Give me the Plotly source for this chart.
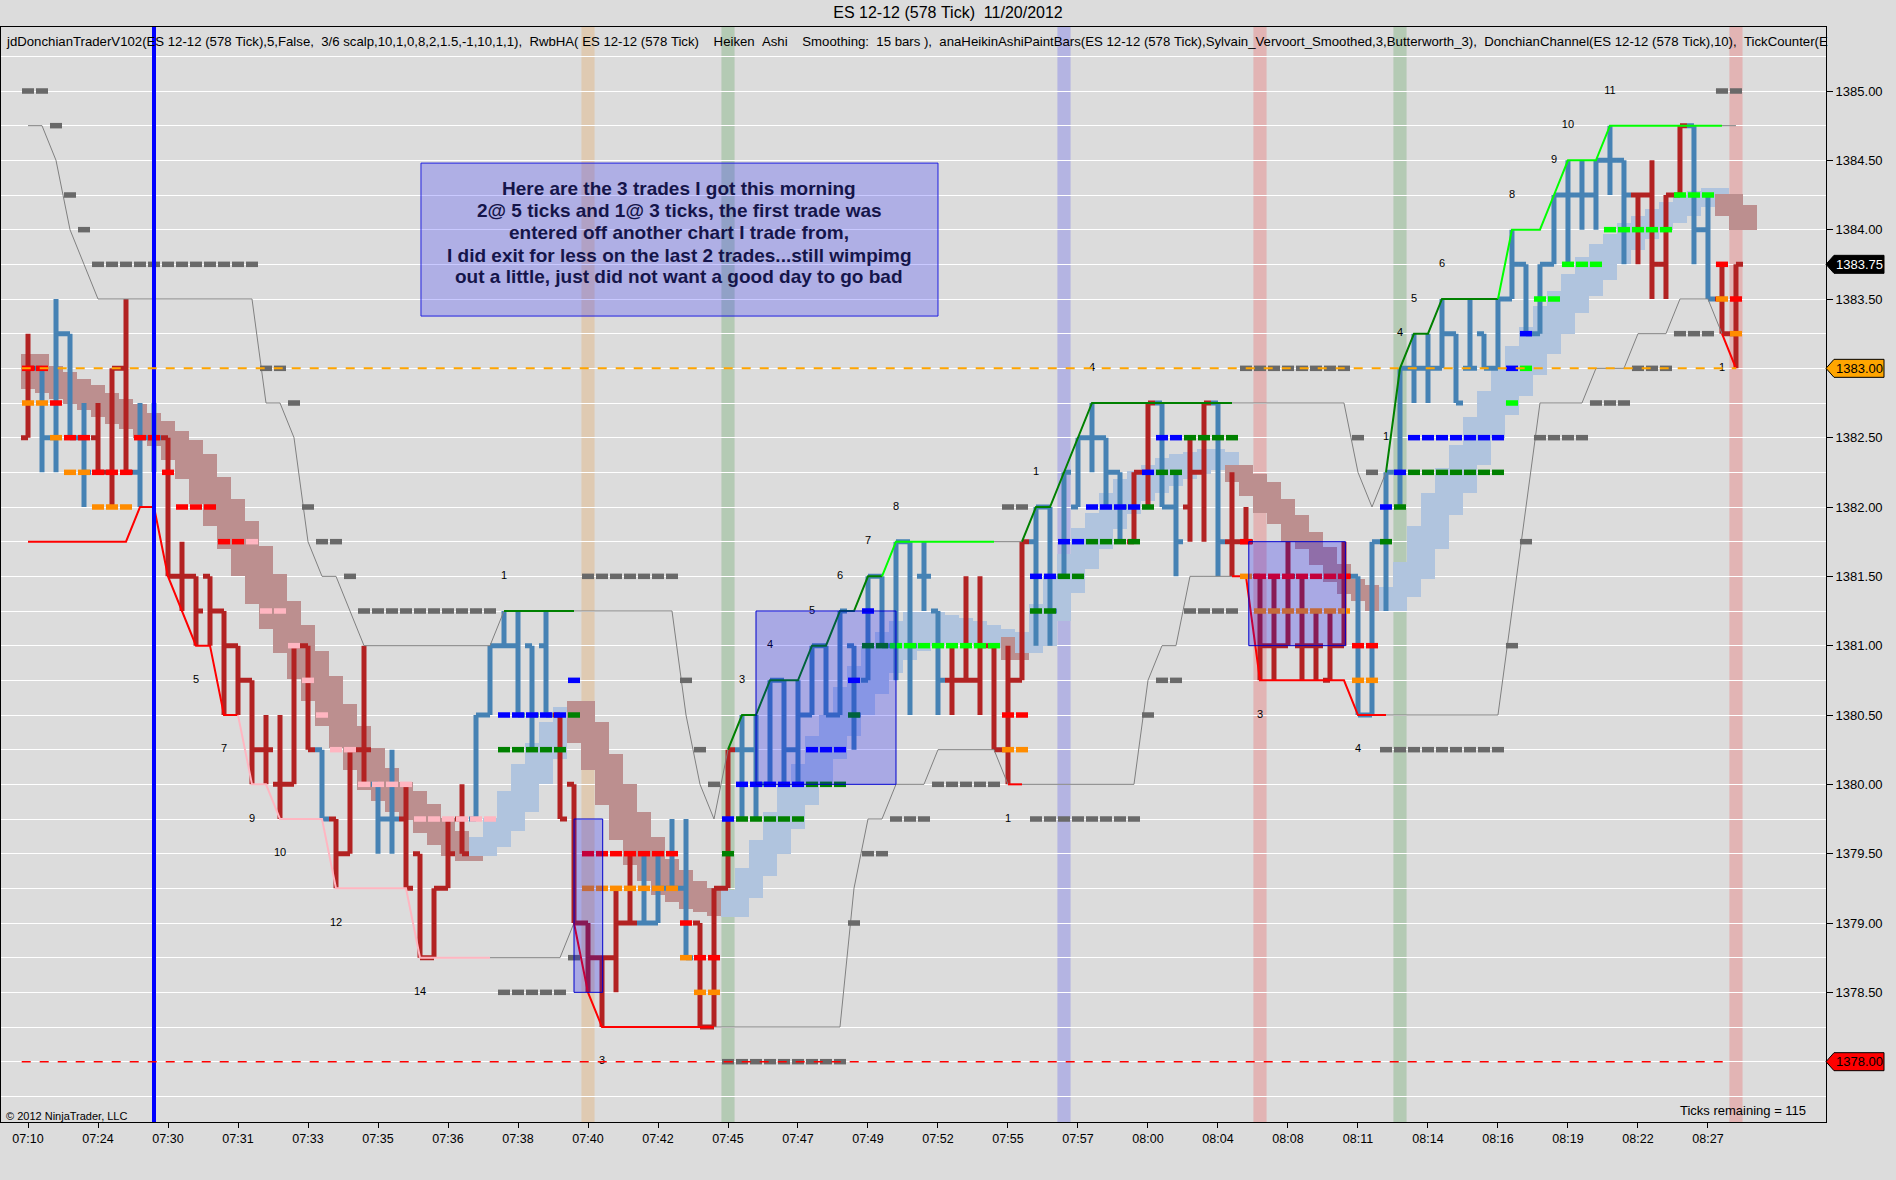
import plotly.graph_objects as go

# ES 12-12 (578 Tick) 11/20/2012 - one entry per bar, bar index = x position
TIME_LABELS = ["07:10", "07:24", "07:30", "07:31", "07:33", "07:35", "07:36", "07:38",
               "07:40", "07:42", "07:45", "07:47", "07:49", "07:52", "07:55", "07:57",
               "08:00", "08:04", "08:08", "08:11", "08:14", "08:16", "08:19", "08:22", "08:27"]
LABEL_STEP = 5

# B = steel blue paint bar, R = firebrick paint bar
PAINT = ("RBBBBRRRBB" "RRRRRRRRRR" "RBRRRBBRRR" "RRBBBBBBRR" "RRRRBBBBRR" "RBBBBBBBBB"
         "BBBBBBRRRR" "RRBBBBBBBR" "RBBRRBRRRR" "RRRRRBBBBB" "BBBBBBBBBB" "BBBBBRRRRB" "BRR")

OPEN = [1382.50, 1383.00, 1382.50, 1383.25, 1382.50, 1382.50, 1382.25, 1383.00, 1382.25, 1382.50,
        1382.50, 1381.50, 1381.50, 1381.50, 1381.25, 1381.00, 1380.75, 1380.25, 1380.00, 1380.00,
        1381.00, 1380.25, 1379.75, 1379.50, 1380.25, 1380.00, 1379.75, 1379.75, 1379.50, 1378.75,
        1379.25, 1379.75, 1379.75, 1380.50, 1381.00, 1381.00, 1381.00, 1381.00, 1380.50, 1380.00,
        1379.00, 1378.75, 1378.75, 1379.00, 1379.00, 1379.00, 1379.25, 1379.25, 1379.00, 1378.25,
        1379.25, 1380.25, 1380.25, 1380.00, 1380.75, 1380.25, 1380.50, 1381.00, 1380.50, 1381.00,
        1380.75, 1381.50, 1381.00, 1381.75, 1381.50, 1381.25, 1380.75, 1380.75, 1380.75, 1381.00,
        1380.25, 1380.75, 1381.75, 1382.00, 1381.50, 1382.00, 1382.50, 1382.50, 1382.25, 1381.75,
        1382.25, 1382.75, 1382.00, 1382.00, 1382.25, 1382.75, 1381.75, 1381.75, 1381.50, 1381.00,
        1381.00, 1381.00, 1381.00, 1380.75, 1381.00, 1381.50, 1380.50, 1381.75, 1382.25, 1383.00,
        1383.00, 1383.00, 1383.25, 1383.00, 1383.25, 1383.00, 1383.50, 1383.75, 1383.25, 1383.75,
        1384.25, 1384.25, 1384.25, 1384.50, 1384.50, 1384.25, 1384.25, 1383.75, 1384.25, 1384.75,
        1384.00, 1383.50, 1383.25]
HIGH = [1383.25, 1383.00, 1383.50, 1383.25, 1382.75, 1382.75, 1383.00, 1383.50, 1382.75, 1382.75,
        1382.50, 1381.75, 1381.50, 1381.50, 1381.25, 1381.00, 1380.75, 1380.50, 1380.50, 1381.00,
        1381.00, 1380.25, 1379.75, 1380.25, 1381.00, 1380.00, 1380.25, 1380.00, 1379.50, 1379.25,
        1379.75, 1380.00, 1380.50, 1381.00, 1381.25, 1381.25, 1381.00, 1381.25, 1380.50, 1380.00,
        1379.00, 1378.75, 1379.25, 1379.50, 1379.50, 1379.50, 1379.75, 1379.75, 1379.00, 1379.25,
        1380.25, 1380.50, 1380.50, 1380.75, 1380.75, 1380.75, 1381.00, 1381.00, 1381.25, 1381.00,
        1381.50, 1381.50, 1381.75, 1381.75, 1381.75, 1381.25, 1381.00, 1381.50, 1381.50, 1381.00,
        1381.00, 1381.75, 1382.00, 1382.00, 1382.25, 1382.50, 1382.75, 1382.50, 1382.25, 1382.25,
        1382.75, 1382.75, 1382.25, 1382.50, 1382.75, 1382.75, 1382.25, 1382.00, 1381.50, 1381.50,
        1381.75, 1381.50, 1381.25, 1381.25, 1381.75, 1381.50, 1381.75, 1382.25, 1383.00, 1383.25,
        1383.25, 1383.50, 1383.25, 1383.50, 1383.25, 1383.50, 1384.00, 1383.75, 1383.75, 1384.25,
        1384.50, 1384.50, 1384.50, 1384.75, 1384.50, 1384.25, 1384.50, 1384.25, 1384.75, 1384.75,
        1384.25, 1383.75, 1383.75]
LOW = [1382.50, 1382.25, 1382.25, 1382.50, 1382.00, 1382.25, 1382.00, 1382.25, 1382.00, 1382.25,
       1381.50, 1381.25, 1381.00, 1381.00, 1380.50, 1380.50, 1380.00, 1380.00, 1379.75, 1380.00,
       1380.25, 1379.75, 1379.25, 1379.50, 1380.00, 1379.50, 1379.50, 1379.25, 1378.75, 1378.75,
       1379.25, 1379.50, 1379.75, 1380.50, 1381.00, 1380.50, 1380.25, 1380.50, 1379.75, 1379.00,
       1378.50, 1378.25, 1378.50, 1379.00, 1379.00, 1379.00, 1379.25, 1378.75, 1378.25, 1378.25,
       1379.25, 1379.75, 1379.75, 1380.00, 1380.00, 1380.00, 1380.50, 1380.50, 1380.50, 1380.25,
       1380.75, 1381.00, 1380.75, 1380.50, 1381.25, 1380.50, 1380.50, 1380.75, 1380.50, 1380.25,
       1380.00, 1380.75, 1381.00, 1381.00, 1381.50, 1382.00, 1382.25, 1382.00, 1381.75, 1381.75,
       1382.00, 1382.00, 1381.50, 1381.75, 1381.75, 1381.50, 1381.50, 1381.75, 1380.75, 1380.75,
       1381.00, 1380.75, 1380.75, 1380.75, 1381.00, 1380.50, 1380.50, 1381.25, 1382.00, 1382.75,
       1382.75, 1383.00, 1382.75, 1383.00, 1383.00, 1383.00, 1383.50, 1383.25, 1383.25, 1383.75,
       1383.75, 1384.00, 1384.00, 1384.25, 1383.75, 1383.75, 1383.50, 1383.50, 1384.25, 1383.75,
       1383.50, 1383.25, 1383.00]
CLOSE = [1383.00, 1382.50, 1383.25, 1382.50, 1382.25, 1382.25, 1383.00, 1382.25, 1382.50, 1382.50,
         1381.50, 1381.50, 1381.25, 1381.25, 1381.00, 1380.75, 1380.25, 1380.25, 1380.00, 1381.00,
         1380.25, 1379.75, 1379.50, 1380.25, 1380.25, 1379.75, 1379.75, 1379.25, 1378.75, 1379.25,
         1379.50, 1379.50, 1380.50, 1381.00, 1381.00, 1380.50, 1380.50, 1380.50, 1379.75, 1379.00,
         1378.75, 1378.75, 1379.00, 1379.00, 1379.00, 1379.25, 1379.25, 1378.75, 1378.25, 1379.25,
         1380.25, 1380.25, 1380.00, 1380.75, 1380.25, 1380.50, 1381.00, 1380.50, 1381.25, 1380.50,
         1381.50, 1381.00, 1381.75, 1381.00, 1381.50, 1380.75, 1380.75, 1380.75, 1381.00, 1380.25,
         1380.75, 1381.75, 1382.00, 1381.25, 1382.25, 1382.50, 1382.50, 1382.25, 1382.00, 1382.25,
         1382.75, 1382.00, 1381.75, 1382.25, 1382.75, 1381.75, 1381.75, 1381.75, 1381.00, 1381.00,
         1381.50, 1381.00, 1381.00, 1381.00, 1381.50, 1380.50, 1381.75, 1382.25, 1383.00, 1383.00,
         1383.00, 1383.25, 1382.75, 1383.00, 1383.00, 1383.50, 1383.75, 1383.25, 1383.75, 1384.25,
         1384.25, 1384.25, 1384.50, 1384.50, 1384.25, 1384.25, 1383.75, 1384.25, 1384.75, 1384.00,
         1383.50, 1383.25, 1383.75]

# smoothed heiken ashi bodies (RwbHA)
HA_OPEN = [1383.10, 1383.02, 1382.97, 1382.92, 1382.88, 1382.82, 1382.78, 1382.74, 1382.68, 1382.62,
           1382.55, 1382.48, 1382.38, 1382.22, 1382.06, 1381.90, 1381.72, 1381.52, 1381.32, 1381.15,
           1380.96, 1380.78, 1380.58, 1380.42, 1380.26, 1380.12, 1380.02, 1379.95, 1379.86, 1379.76,
           1379.66, 1379.60, 1379.48, 1379.55, 1379.66, 1379.80, 1380.00, 1380.18, 1380.35, 1380.60,
           1380.45, 1380.22, 1380.00, 1379.80, 1379.62, 1379.46, 1379.38, 1379.30, 1379.25, 1379.20,
           1379.04, 1379.18, 1379.34, 1379.50, 1379.68, 1379.85, 1380.00, 1380.18, 1380.35, 1380.50,
           1380.65, 1380.80, 1380.90, 1380.96, 1381.00, 1381.02, 1381.02, 1381.02, 1381.00, 1380.98,
           1381.06, 1380.95, 1381.00, 1381.18, 1381.38, 1381.55, 1381.70, 1381.84, 1381.95, 1382.04,
           1382.10, 1382.15, 1382.20, 1382.24, 1382.27, 1382.28, 1382.30, 1382.24, 1382.18, 1382.06,
           1381.94, 1381.82, 1381.71, 1381.59, 1381.48, 1381.44, 1381.36, 1381.25, 1381.35, 1381.48,
           1381.70, 1381.94, 1382.10, 1382.30, 1382.50, 1382.66, 1382.80, 1382.95, 1383.10, 1383.25,
           1383.40, 1383.52, 1383.64, 1383.75, 1383.85, 1383.93, 1384.00, 1384.05, 1384.10, 1384.16,
           1384.20, 1384.26, 1384.18]
HA_CLOSE = [1382.85, 1382.82, 1382.78, 1382.74, 1382.70, 1382.65, 1382.60, 1382.56, 1382.50, 1382.44,
            1382.34, 1382.20, 1382.02, 1381.86, 1381.70, 1381.50, 1381.30, 1381.12, 1380.95, 1380.76,
            1380.60, 1380.42, 1380.26, 1380.10, 1379.96, 1379.88, 1379.80, 1379.74, 1379.65, 1379.56,
            1379.48, 1379.45, 1379.62, 1379.76, 1379.95, 1380.15, 1380.30, 1380.45, 1380.56, 1380.30,
            1380.10, 1379.85, 1379.60, 1379.42, 1379.30, 1379.20, 1379.15, 1379.10, 1379.08, 1379.05,
            1379.24, 1379.40, 1379.60, 1379.80, 1380.00, 1380.15, 1380.35, 1380.50, 1380.70, 1380.85,
            1381.00, 1381.10, 1381.18, 1381.24, 1381.24, 1381.22, 1381.20, 1381.18, 1381.15, 1381.12,
            1380.90, 1381.10, 1381.30, 1381.50, 1381.66, 1381.85, 1381.96, 1382.10, 1382.20, 1382.26,
            1382.30, 1382.35, 1382.38, 1382.40, 1382.42, 1382.40, 1382.18, 1382.08, 1381.96, 1381.88,
            1381.75, 1381.70, 1381.58, 1381.46, 1381.37, 1381.32, 1381.25, 1381.42, 1381.60, 1381.86,
            1382.10, 1382.28, 1382.45, 1382.65, 1382.84, 1383.00, 1383.16, 1383.30, 1383.45, 1383.56,
            1383.68, 1383.80, 1383.90, 1383.97, 1384.05, 1384.10, 1384.15, 1384.20, 1384.25, 1384.28,
            1384.30, 1384.10, 1384.00]

# donchian channel (10)
UPPER = ([1384.75] * 2 + [1384.50, 1384.00, 1383.75] + [1383.50] * 12 + [1382.75] * 2 + [1382.50, 1381.75]
         + [1381.50] * 2 + [1381.25] + [1381.00] * 10 + [1381.25] * 13 + [1380.50, 1380.00, 1379.75, 1380.25]
         + [1380.50] * 2 + [1380.75] * 3 + [1381.00] * 2 + [1381.25] * 2 + [1381.50] * 2 + [1381.75] * 10
         + [1382.00] * 2 + [1382.25, 1382.50] + [1382.75] * 19 + [1382.25, 1382.00, 1382.25, 1383.00]
         + [1383.25] * 2 + [1383.50] * 5 + [1384.00] * 3 + [1384.25] + [1384.50] * 3 + [1384.75] * 10)
LOWER = ([1381.75] * 8 + [1382.00] * 2 + [1381.50, 1381.25] + [1381.00] * 2 + [1380.50] * 2 + [1380.00] * 2
         + [1379.75] * 4 + [1379.25] * 6 + [1378.75] * 11 + [1379.00, 1378.50] + [1378.25] * 18 + [1379.25]
         + [1379.75] * 2 + [1380.00] * 3 + [1380.25] * 5 + [1380.00] * 10 + [1380.75] + [1381.00] * 2
         + [1381.50] * 5 + [1380.75] * 7 + [1380.50] * 11 + [1381.25, 1382.00] + [1382.75] * 4
         + [1383.00] * 3 + [1383.25] * 3 + [1383.50] * 3 + [1383.25, 1383.00])
UPPER_SEGMENTS = [("gray", 0, 34), ("darkgreen", 34, 39), ("gray", 39, 50), ("darkgreen", 50, 61),
                  ("lime", 61, 69), ("gray", 69, 71), ("darkgreen", 71, 86), ("gray", 86, 97),
                  ("darkgreen", 97, 105), ("lime", 105, 121), ("gray", 121, 122)]
LOWER_SEGMENTS = [("red", 0, 15), ("pink", 15, 33), ("gray", 33, 39), ("red", 39, 49), ("gray", 49, 86),
                  ("red", 70, 71), ("red", 86, 97), ("gray", 97, 121), ("red", 121, 122)]

# trader stop / target dashes: (first bar, last bar, price)
GRAY_STOPS = [(0, 1, 1385.0), (2, 2, 1384.75), (3, 3, 1384.25), (4, 4, 1384.0), (5, 16, 1383.75),
              (17, 18, 1383.0), (19, 19, 1382.75), (20, 20, 1382.0), (21, 22, 1381.75), (23, 23, 1381.5),
              (24, 33, 1381.25), (34, 38, 1378.5), (39, 39, 1378.75), (40, 46, 1381.5), (47, 47, 1380.75),
              (48, 48, 1380.25), (49, 49, 1380.0), (50, 58, 1378.0), (59, 59, 1379.0), (60, 61, 1379.5),
              (62, 64, 1379.75), (65, 69, 1380.0), (70, 71, 1382.0), (72, 79, 1379.75), (80, 80, 1380.5),
              (81, 82, 1380.75), (83, 86, 1381.25), (87, 94, 1383.0), (95, 95, 1382.5), (96, 96, 1382.25),
              (97, 105, 1380.25), (106, 106, 1381.0), (107, 107, 1381.75), (108, 111, 1382.5),
              (112, 114, 1382.75), (115, 117, 1383.0), (118, 120, 1383.25), (121, 122, 1385.0)]
RED_STOPS = [(0, 1, 1383.0), (2, 2, 1382.75), (3, 4, 1382.5), (5, 7, 1382.25), (8, 9, 1382.5),
             (10, 10, 1382.25), (11, 13, 1382.0), (14, 15, 1381.75), (40, 46, 1379.5), (47, 47, 1379.0),
             (48, 49, 1378.75), (70, 71, 1380.5), (87, 87, 1381.75), (88, 94, 1381.5), (95, 96, 1381.0),
             (121, 121, 1383.75), (122, 122, 1383.5)]
ORANGE_STOPS = [(0, 1, 1382.75), (2, 2, 1382.5), (3, 4, 1382.25), (5, 7, 1382.0), (40, 46, 1379.25),
                (47, 47, 1378.75), (48, 49, 1378.5), (70, 71, 1380.25), (87, 87, 1381.5), (88, 94, 1381.25),
                (95, 96, 1380.75), (121, 121, 1383.5), (122, 122, 1383.25)]
PINK_STOPS = [(16, 16, 1381.75), (17, 18, 1381.25), (19, 19, 1381.0), (20, 20, 1380.75), (21, 21, 1380.5),
              (22, 23, 1380.25), (24, 27, 1380.0), (28, 33, 1379.75)]
BLUE_STOPS = [(34, 38, 1380.5), (39, 39, 1380.75), (50, 50, 1379.75), (51, 55, 1380.0), (56, 58, 1380.25),
              (59, 59, 1380.75), (60, 60, 1381.25), (72, 73, 1381.5), (74, 75, 1381.75), (76, 79, 1382.0),
              (80, 80, 1382.25), (81, 82, 1382.5), (97, 97, 1382.0), (98, 98, 1382.25), (99, 105, 1382.5),
              (106, 106, 1383.0), (107, 107, 1383.25)]
GREEN_STOPS = [(34, 38, 1380.25), (39, 39, 1380.5), (50, 50, 1379.5), (51, 55, 1379.75), (56, 58, 1380.0),
               (59, 59, 1380.5), (60, 61, 1381.0), (72, 73, 1381.25), (74, 75, 1381.5), (76, 79, 1381.75),
               (80, 80, 1382.0), (81, 82, 1382.25), (83, 86, 1382.5), (97, 97, 1381.75), (98, 98, 1382.0),
               (99, 105, 1382.25)]
LIME_STOPS = [(62, 69, 1381.0), (106, 106, 1382.75), (107, 107, 1383.0), (108, 109, 1383.5),
              (110, 112, 1383.75), (113, 117, 1384.0), (118, 120, 1384.25)]

# breakout counters
COUNT_TEXT = ["1", "5", "7", "9", "10", "12", "14", "3", "3", "4", "5", "6", "7", "8", "1", "1", "4",
              "3", "4", "1", "4", "5", "6", "8", "9", "10", "11", "1"]
COUNT_BAR = [34, 12, 14, 16, 18, 22, 28, 41, 51, 53, 56, 58, 60, 62, 70, 72, 76,
             88, 95, 97, 98, 99, 101, 106, 109, 110, 113, 121]
COUNT_PRICE = [1381.5, 1380.75, 1380.25, 1379.75, 1379.5, 1379.0, 1378.5, 1378.0, 1380.75, 1381.0,
               1381.25, 1381.5, 1381.75, 1382.0, 1379.75, 1382.25, 1383.0, 1380.5, 1380.25, 1382.5,
               1383.25, 1383.5, 1383.75, 1384.25, 1384.5, 1384.75, 1385.0, 1383.0]

# highlighted trade bars
SIGNAL_BARS = [40, 50, 74, 88, 98, 122]
SIGNAL_COLORS = ["rgba(230,170,100,0.35)", "rgba(0,120,0,0.18)", "rgba(0,0,255,0.18)",
                 "rgba(255,0,0,0.18)", "rgba(0,120,0,0.18)", "rgba(255,0,0,0.18)"]
SESSION_LINE_BAR = 9

# drawn boxes: (left bar, right bar, bottom, top)
TRADE_BOXES = [(39.0, 41.05, 1378.5, 1379.75), (52.0, 62.0, 1380.0, 1381.25), (87.2, 94.1, 1381.0, 1381.75)]
NOTE_BOX = (28.07, 65.0, 1383.377, 1384.48)
NOTE_LINES = ["Here are the 3 trades I got this morning",
              "2@ 5 ticks and 1@ 3 ticks, the first trade was",
              "entered off another chart I trade from,",
              "I did exit for less on the last 2 trades...still wimpimg",
              "out a little, just did not want a good day to go bad"]
NOTE_LINE_Y = [1384.295, 1384.138, 1383.981, 1383.816, 1383.659]

LAST_PRICE = 1383.75
ENTRY_LEVEL = 1383.00
TARGET_LEVEL = 1378.00

NBSP = "\u00a0"
INDICATORS = ("jdDonchianTraderV102(ES 12-12 (578 Tick),5,False,  3/6 scalp,10,1,0,8,2,1.5,-1,10,1,1),  "
              "RwbHA( ES 12-12 (578 Tick)    Heiken  Ashi    Smoothing:  15 bars ),  "
              "anaHeikinAshiPaintBars(ES 12-12 (578 Tick),Sylvain_Vervoort_Smoothed,3,Butterworth_3),  "
              "DonchianChannel(ES 12-12 (578 Tick),10),  TickCounter(E").replace(" ", NBSP)

FONT = "Arial, Liberation Sans, sans-serif"
STEEL = "#4682B4"
FIRE = "#B22222"
LINE_COLORS = {"gray": "#808080", "red": "#FF0000", "pink": "#FFB6C1",
               "darkgreen": "#008000", "lime": "#00FF00"}

fig = go.Figure()
idx = list(range(len(OPEN)))

# heiken ashi band behind the bars
ha_base = [min(o, c) for o, c in zip(HA_OPEN, HA_CLOSE)]
ha_size = [abs(c - o) for o, c in zip(HA_OPEN, HA_CLOSE)]
ha_col = ["#B0C4DE" if c > o else "#BC8F8F" for o, c in zip(HA_OPEN, HA_CLOSE)]
fig.add_trace(go.Bar(x=idx, y=ha_size, base=ha_base, width=2, offset=-0.5,
                     marker=dict(color=ha_col, line=dict(width=0)), hoverinfo="skip"))

for key, col in (("B", STEEL), ("R", FIRE)):
    sel = [i for i in idx if PAINT[i] == key]
    style = dict(line=dict(color=col, width=5))
    fig.add_trace(go.Ohlc(x=sel, open=[OPEN[i] for i in sel], high=[HIGH[i] for i in sel],
                          low=[LOW[i] for i in sel], close=[CLOSE[i] for i in sel],
                          increasing=style, decreasing=style, tickwidth=0.5, hoverinfo="skip"))

for values, segments in ((UPPER, UPPER_SEGMENTS), (LOWER, LOWER_SEGMENTS)):
    for name, a, b in segments:
        fig.add_trace(go.Scatter(x=idx[a:b + 1], y=values[a:b + 1], mode="lines",
                                 line=dict(color=LINE_COLORS[name], width=1 if name == "gray" else 2),
                                 hoverinfo="skip"))

for runs, col in ((GRAY_STOPS, "#696969"), (PINK_STOPS, "#FFB6C1"), (ORANGE_STOPS, "#FF8C00"),
                  (RED_STOPS, "#FF0000"), (GREEN_STOPS, "#008000"), (BLUE_STOPS, "#0000FF"),
                  (LIME_STOPS, "#00FF00")):
    xs, ys = [], []
    for a, b, p in runs:
        for i in range(a, b + 1):
            xs.append(i)
            ys.append(p)
    fig.add_trace(go.Scatter(x=xs, y=ys, mode="markers", hoverinfo="skip",
                             marker=dict(symbol="line-ew", size=8.6, line=dict(color=col, width=5.5))))

fig.add_trace(go.Scatter(x=COUNT_BAR, y=COUNT_PRICE, text=COUNT_TEXT, mode="text",
                         textfont=dict(family=FONT, size=11, color="black"), hoverinfo="skip"))

shapes = []
for bar, col in zip(SIGNAL_BARS, SIGNAL_COLORS):
    shapes.append(dict(type="rect", xref="x", yref="paper", x0=bar - 0.47, x1=bar + 0.47, y0=0, y1=1,
                       fillcolor=col, line=dict(width=0), layer="below"))
shapes.append(dict(type="line", xref="x", yref="paper", x0=SESSION_LINE_BAR, x1=SESSION_LINE_BAR,
                   y0=0, y1=1, line=dict(color="#0000FF", width=4), layer="above"))
shapes.append(dict(type="line", xref="x", yref="y", x0=-0.45, x1=122, y0=ENTRY_LEVEL, y1=ENTRY_LEVEL,
                   line=dict(color="#FFA500", width=2, dash="dash"), layer="above"))
shapes.append(dict(type="line", xref="x", yref="y", x0=-0.45, x1=121.5, y0=TARGET_LEVEL, y1=TARGET_LEVEL,
                   line=dict(color="#FF0000", width=1.5, dash="dash"), layer="above"))
for x0, x1, y0, y1 in TRADE_BOXES:
    shapes.append(dict(type="rect", xref="x", yref="y", x0=x0, x1=x1, y0=y0, y1=y1,
                       fillcolor="rgba(0,0,255,0.23)", line=dict(color="#0000CC", width=1), layer="above"))
shapes.append(dict(type="rect", xref="x", yref="y", x0=NOTE_BOX[0], x1=NOTE_BOX[1],
                   y0=NOTE_BOX[2], y1=NOTE_BOX[3], fillcolor="rgba(40,40,255,0.25)",
                   line=dict(color="#2020E0", width=1), layer="above"))

annotations = []
for txt, y in zip(NOTE_LINES, NOTE_LINE_Y):
    annotations.append(dict(x=(NOTE_BOX[0] + NOTE_BOX[1]) / 2, y=y, xref="x", yref="y", text="<b>" + txt + "</b>",
                            showarrow=False, font=dict(family=FONT, size=19, color="#15154a")))

# price flags on the right axis
for price, fill, fg in ((LAST_PRICE, "#000000", "#FFFFFF"), (ENTRY_LEVEL, "#FFA500", "#000000"),
                        (TARGET_LEVEL, "#FF0000", "#000000")):
    shapes.append(dict(type="path", xref="paper", yref="y", xsizemode="pixel", ysizemode="pixel",
                       xanchor=1, yanchor=price, path="M0,0 L8,9 L58,9 L58,-9 L8,-9 Z",
                       fillcolor=fill, line=dict(color="#000000", width=1), layer="above"))
    annotations.append(dict(x=1, xref="paper", y=price, yref="y", xanchor="center", xshift=33,
                            text="%.2f" % price, showarrow=False,
                            font=dict(family=FONT, size=13, color=fg)))

annotations.append(dict(x=0, y=1, xref="paper", yref="paper", xanchor="left", yanchor="top",
                        xshift=3, yshift=-5, text=INDICATORS, showarrow=False,
                        font=dict(family=FONT, size=13.2, color="black")))
annotations.append(dict(x=0, y=0, xref="paper", yref="paper", xanchor="left", yanchor="middle",
                        xshift=3, yshift=6, text="\u00a9 2012 NinjaTrader, LLC", showarrow=False,
                        font=dict(family=FONT, size=11, color="black")))
annotations.append(dict(x=1, y=0, xref="paper", yref="paper", xanchor="right", yanchor="middle",
                        xshift=-18, yshift=12, text="Ticks remaining = 115", showarrow=False,
                        font=dict(family=FONT, size=13, color="black")))

fig.update_layout(
    width=1896, height=1180,
    template="none",
    margin=dict(l=1, r=70, t=27, b=58, autoexpand=False),
    paper_bgcolor="#DCDCDC", plot_bgcolor="#DCDCDC",
    showlegend=False, hovermode=False,
    title=dict(text="ES 12-12 (578 Tick)  11/20/2012".replace(" ", NBSP), x=0.5, xanchor="center",
               xref="container", y=1 - 12 / 1180, yanchor="middle",
               font=dict(family=FONT, size=16, color="black")),
    font=dict(family=FONT, color="black"),
    shapes=shapes, annotations=annotations,
    bargap=0,
)
fig.update_xaxes(range=[-1.929, 128.43], tickvals=idx[::LABEL_STEP], ticktext=TIME_LABELS,
                 ticks="outside", ticklen=5, tickcolor="black", tickfont=dict(size=12.5),
                 showgrid=False, zeroline=False, showline=True, linecolor="black", linewidth=1,
                 mirror=True, rangeslider=dict(visible=False), automargin=False)
fig.update_yaxes(range=[1377.565, 1385.4615], side="right", dtick=0.5, tickformat=".2f",
                 ticks="outside", ticklen=6, tickcolor="black", tickfont=dict(size=13),
                 showgrid=True, gridcolor="white", gridwidth=1,
                 minor=dict(dtick=0.25, showgrid=True, gridcolor="white", gridwidth=1),
                 zeroline=False, showline=True, linecolor="black", linewidth=1, mirror=True,
                 automargin=False)

# the page body has a default 8px margin; drop it so the chart sits at the window corner
fig.write_html("out.html", config={"displayModeBar": False},
               post_script="document.body.style.margin='0';")
